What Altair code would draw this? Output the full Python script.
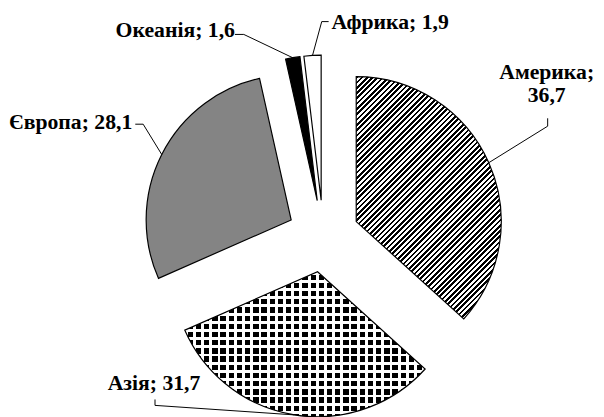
import math
import altair as alt
import pandas as pd

# ---- data ----
regions = ["Америка", "Азія", "Європа", "Океанія", "Африка"]
shares = [36.7, 31.7, 28.1, 1.6, 1.9]

# ---- layout (chart pixel coordinates) ----
label_x = [546, 148, 126, 230, 328]
label_y = [69, 384, 120, 27, 18]
label_align = ["center", "center", "right", "right", "left"]
label_sep = ["\n", " ", " ", " ", " "]
lead_x1 = [547, 149, 129, 230, 325]
lead_y1 = [109, 394, 115, 24, 11]
lead_x2 = [547, 149, 137, 239, 318]
lead_y2 = [117, 400, 115, 24, 11]

CX, CY, R, EXPL = 319.6, 228.5, 147, 36.5
FONT = "Liberation Serif"

labels = [f"{r};{s}{str(v).replace('.', ',')}" for r, v, s in zip(regions, shares, label_sep)]

df = pd.DataFrame({
    "region": regions, "share": shares, "i": list(range(len(regions))),
    "label": labels, "align": label_align,
    "lx": label_x, "ly": label_y,
    "x1": lead_x1, "y1": lead_y1, "x2": lead_x2, "y2": lead_y2,
})

# ---- bounding boxes of slices (for pattern gradients) ----
total = sum(shares)
bbox = {}
cum = 0.0
for r, v in zip(regions, shares):
    a0 = 2 * math.pi * cum / total
    a1 = 2 * math.pi * (cum + v) / total
    cum += v
    angs = [a0, a1] + [k * math.pi / 2 for k in range(5) if a0 < k * math.pi / 2 < a1]
    pts = [(0.0, 0.0)] + [(R * math.sin(a), -R * math.cos(a)) for a in angs]
    xs = [p[0] for p in pts]
    ys = [p[1] for p in pts]
    bbox[r] = (max(xs) - min(xs), max(ys) - min(ys))


def stripe_grad(w, h, period, on, c_on, c_off, mode):
    if mode == "v":
        x2, y2, span = 1, 0, w
    elif mode == "h":
        x2, y2, span = 0, 1, h
    else:
        k = (w + h) / (w * w + h * h)
        x2, y2, span = w * k, h * k, (w + h) / math.sqrt(2)
    stops = []
    pos = 0.0
    while pos < span:
        a = pos / span
        b = min((pos + on) / span, 1.0)
        c = min((pos + period) / span, 1.0)
        stops += [(a, c_on), (b, c_on), (b, c_off), (c, c_off)]
        pos += period
    return alt.LinearGradient(
        gradient="linear", x1=0, y1=0, x2=x2, y2=y2,
        stops=[alt.GradientStop(offset=round(o, 5), color=c) for o, c in stops],
    )


TRANSP = "rgba(255,255,255,0)"

base = (
    alt.Chart(df)
    .transform_joinaggregate(total="sum(share)")
    .transform_window(cum="sum(share)", sort=[alt.SortField("i")], frame=[None, 0])
    .transform_calculate(a0="2*PI*(datum.cum - datum.share)/datum.total")
    .transform_calculate(a1="2*PI*datum.cum/datum.total")
    .transform_calculate(mid="(datum.a0 + datum.a1)/2")
    .transform_calculate(px=f"{CX} + {EXPL}*sin(datum.mid)")
    .transform_calculate(py=f"{CY} - {EXPL}*cos(datum.mid)")
    .transform_calculate(ax=f"{CX} + {EXPL + R}*sin(datum.mid)")
    .transform_calculate(ay=f"{CY} - {EXPL + R}*cos(datum.mid)")
)


def arc(region, **kw):
    return base.transform_filter(alt.datum.region == region).mark_arc(radius=R, **kw).encode(
        theta=alt.Theta("a0:Q", scale=None, stack=False),
        theta2=alt.Theta2("a1:Q"),
        x=alt.X("px:Q", scale=None, axis=None),
        y=alt.Y("py:Q", scale=None, axis=None),
    )


SW = 1.2
wA, hA = bbox["Америка"]
wS, hS = bbox["Азія"]

layers = [
    arc("Америка", fill=stripe_grad(wA, hA, 3.8, 1.9, "black", "white", "d"), stroke="black", strokeWidth=SW),
    arc("Азія", fill="black", strokeWidth=0),
    arc("Азія", fill=stripe_grad(wS, hS, 8.3, 2.9, "white", TRANSP, "v"), strokeWidth=0),
    arc("Азія", fill=stripe_grad(wS, hS, 8.3, 2.9, "white", TRANSP, "h"), strokeWidth=0),
    arc("Азія", fill="white", fillOpacity=0, stroke="black", strokeWidth=SW),
    arc("Європа", fill="#848484", stroke="black", strokeWidth=SW),
    arc("Океанія", fill="black", stroke="black", strokeWidth=SW),
    arc("Африка", fill="white", stroke="black", strokeWidth=SW),
]

leader1 = base.mark_rule(color="black", strokeWidth=1).encode(
    x=alt.X("x1:Q", scale=None, axis=None), y=alt.Y("y1:Q", scale=None, axis=None),
    x2="x2:Q", y2="y2:Q",
)
leader2 = base.mark_rule(color="black", strokeWidth=1).encode(
    x=alt.X("x2:Q", scale=None, axis=None), y=alt.Y("y2:Q", scale=None, axis=None),
    x2="ax:Q", y2="ay:Q",
)
layers += [leader1, leader2]

for al in ["left", "center", "right"]:
    layers.append(
        base.transform_filter(alt.datum.align == al)
        .mark_text(font=FONT, fontWeight="bold", fontSize=22, baseline="alphabetic",
                   align=al, lineBreak="\n", lineHeight=23, color="black")
        .encode(
            x=alt.X("lx:Q", scale=None, axis=None),
            y=alt.Y("ly:Q", scale=None, axis=None),
            text="label:N",
        )
    )

chart = (
    alt.layer(*layers)
    .properties(width=596, height=409, autosize="none", padding=0, background="white")
    .configure_view(strokeWidth=0)
)

chart.save("out.html", embed_options={"renderer": "svg", "actions": False})
